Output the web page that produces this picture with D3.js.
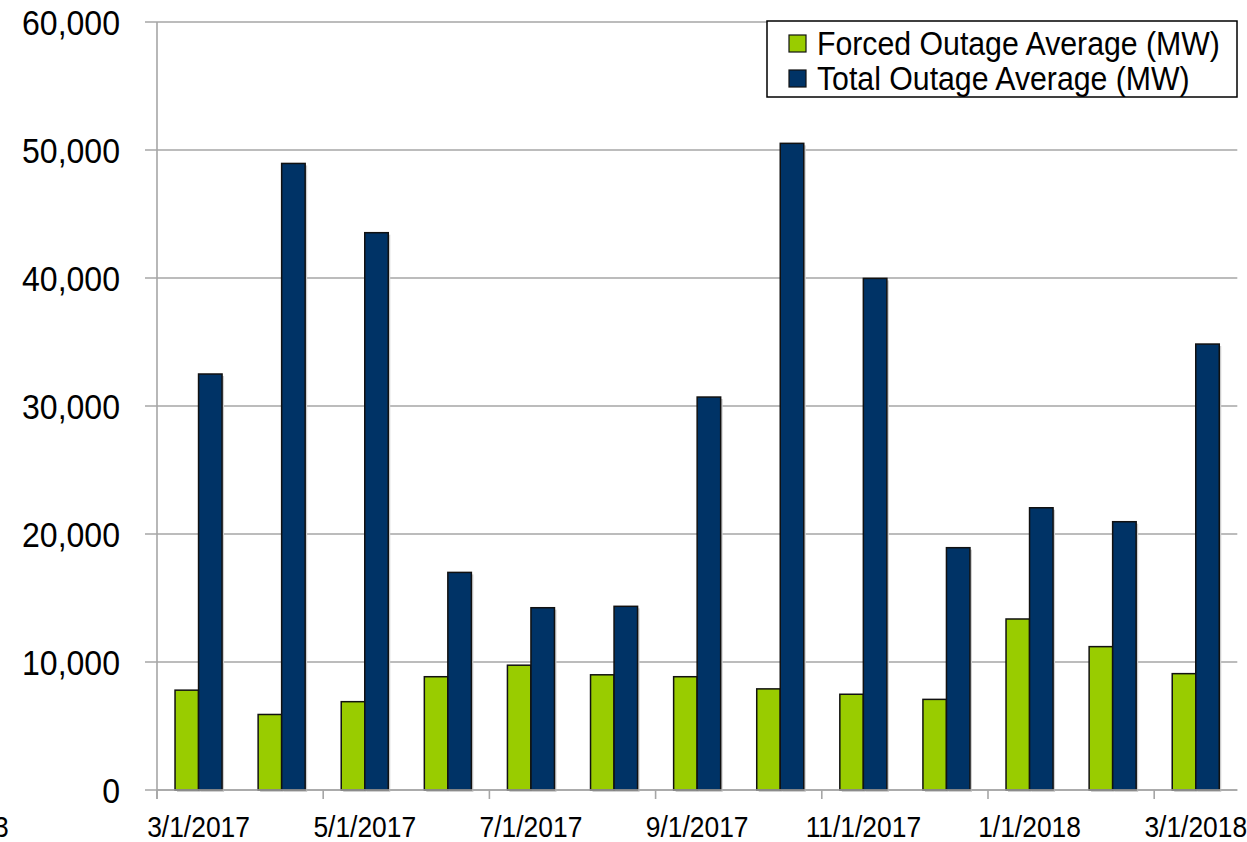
<!DOCTYPE html>
<html>
<head>
<meta charset="utf-8">
<script src="https://cdn.jsdelivr.net/npm/d3@7"></script>
<style>
  html, body { margin: 0; padding: 0; background: #fff; }
  svg { display: block; }
  text { font-family: "Liberation Sans", Arial, sans-serif; fill: #000; }
</style>
</head>
<body>
<svg id="chart" width="1247" height="842"></svg>
<script>
// ---- data ----
const categories = ["3/1/2017","4/1/2017","5/1/2017","6/1/2017","7/1/2017","8/1/2017","9/1/2017",
                    "10/1/2017","11/1/2017","12/1/2017","1/1/2018","2/1/2018","3/1/2018"];
const forcedOutage = [7800, 5900, 6900, 8850, 9750, 9000, 8850, 7900, 7480, 7080, 13360, 11200, 9090];
const totalOutage  = [32500, 48950, 43540, 17000, 14240, 14350, 30700, 50520, 39970, 18930, 22050, 20960, 34840];
const seriesNames  = ["Forced Outage Average (MW)", "Total Outage Average (MW)"];
const seriesColors = ["#99cc00", "#003366"];
const yTicks = [0, 10000, 20000, 30000, 40000, 50000, 60000];
const xTickLabels = ["3/1/2017","5/1/2017","7/1/2017","9/1/2017","11/1/2017","1/1/2018","3/1/2018"];

// ---- layout ----
const svg = d3.select("#chart");
const plotL = 157, plotR = 1237.3, plotT = 22, plotB = 790;

const x = d3.scaleBand().domain(categories).range([plotL, plotR]).paddingInner(0.434).paddingOuter(0.217);
const x1 = d3.scaleBand().domain([0, 1]).range([0, x.bandwidth()]);
const y = d3.scaleLinear().domain([0, 60000]).range([plotB, plotT]);

const gridColor = "#a6a6a6";
const fmt = d3.format(",");

// gridlines (with left tick stubs)
svg.append("g").selectAll("line").data(yTicks).join("line")
  .attr("x1", plotL - 12).attr("x2", plotR)
  .attr("y1", d => y(d)).attr("y2", d => y(d))
  .attr("stroke", gridColor).attr("stroke-width", 1.6);

// y axis line
svg.append("line").attr("x1", plotL).attr("x2", plotL).attr("y1", plotT).attr("y2", plotB + 9)
  .attr("stroke", gridColor).attr("stroke-width", 1.6);
// y labels (condensed)
svg.append("g").selectAll("text").data(yTicks).join("text")
  .attr("transform", d => `translate(120,${y(d)}) scale(0.916,1)`)
  .attr("text-anchor", "end").attr("dy", "0.36em")
  .style("font-size", "35px").text(d => fmt(d));

// bars
const data = categories.map((c, i) => ({ c, vals: [forcedOutage[i], totalOutage[i]] }));
const groups = svg.append("g").selectAll("g").data(data).join("g")
  .attr("transform", d => `translate(${x(d.c)},0)`);
groups.selectAll("rect.sh").data(d => d.vals).join("rect").attr("class", "sh")
  .attr("x", (v, j) => x1(j) + 2).attr("y", v => y(v) + 2)
  .attr("width", x1.bandwidth()).attr("height", v => y(0) - y(v))
  .attr("fill", "#cfcfcf");
groups.selectAll("rect.bar").data(d => d.vals).join("rect").attr("class", "bar")
  .attr("x", (v, j) => x1(j)).attr("y", v => y(v))
  .attr("width", x1.bandwidth()).attr("height", v => y(0) - y(v))
  .attr("fill", (v, j) => seriesColors[j])
  .attr("stroke", "#111").attr("stroke-width", 1.5);

// x axis line
svg.append("line").attr("x1", plotL).attr("x2", plotR).attr("y1", plotB).attr("y2", plotB)
  .attr("stroke", gridColor).attr("stroke-width", 1.6);
// x tick marks at band boundaries every 2 months
const step = x.step();
const boundary = c => x(c) - (step - x.bandwidth()) / 2;
svg.append("g").selectAll("line").data(xTickLabels).join("line")
  .attr("x1", d => boundary(d)).attr("x2", d => boundary(d))
  .attr("y1", plotB).attr("y2", plotB + 9)
  .attr("stroke", gridColor).attr("stroke-width", 1.6);
// x labels (condensed)
svg.append("g").selectAll("text").data(xTickLabels).join("text")
  .attr("transform", d => `translate(${x(d) + x.bandwidth() / 2},836.5) scale(0.895,1)`)
  .attr("text-anchor", "middle").style("font-size", "29.5px").text(d => d);
// clipped stray label at far left edge
svg.append("text").attr("transform", "translate(-6,836.5) scale(0.895,1)")
  .style("font-size", "29.5px").text("3");

// legend
const lg = svg.append("g");
lg.append("rect").attr("x", 767).attr("y", 21).attr("width", 470).attr("height", 76)
  .attr("fill", "#fff").attr("stroke", "#000").attr("stroke-width", 1.5);
seriesNames.forEach((name, i) => {
  lg.append("rect").attr("x", 789).attr("y", 35 + i * 35).attr("width", 17).attr("height", 17)
    .attr("fill", seriesColors[i]).attr("stroke", "#111").attr("stroke-width", 1.2);
  lg.append("text").attr("transform", `translate(817,${55 + i * 35}) scale(0.89,1)`)
    .style("font-size", "34px").text(name);
});
</script>
</body>
</html>
